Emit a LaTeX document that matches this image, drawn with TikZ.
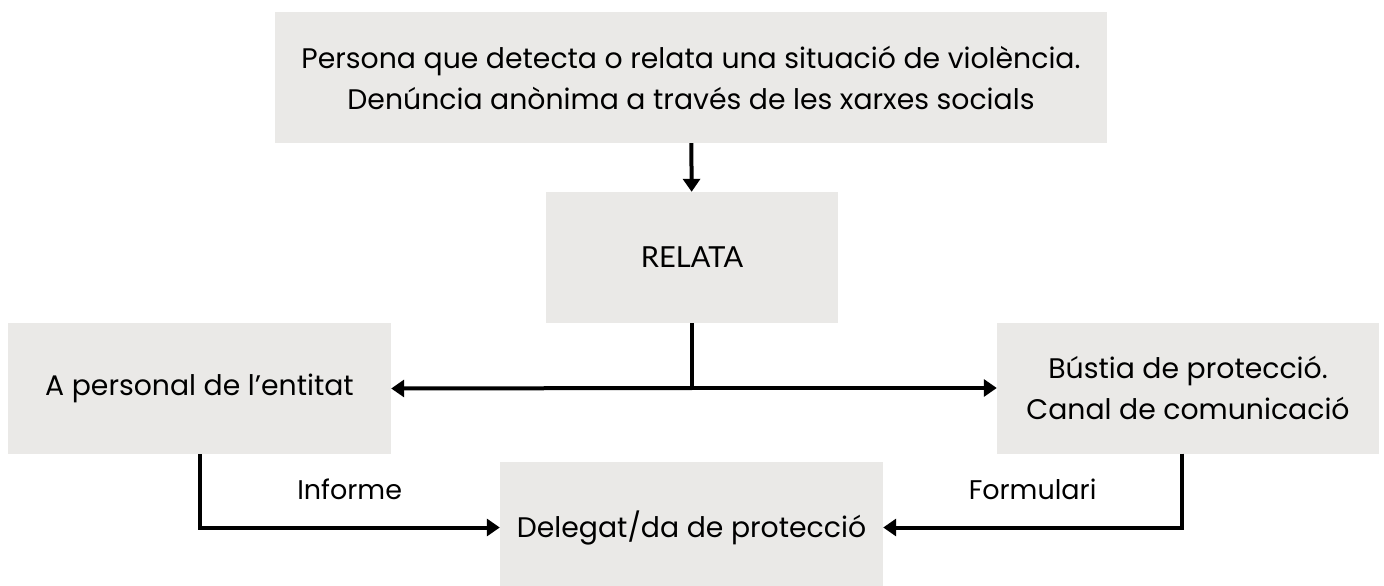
\documentclass[tikz,border=0pt]{standalone}
\usepackage{fontspec}
\setmainfont{Poppins}
\newfontfamily\relatafont{Lato}
\usepackage{xcolor}
\usetikzlibrary{arrows.meta, positioning}
\definecolor{boxgray}{RGB}{234,233,231}

\begin{document}
\begin{tikzpicture}[
    x=1pt, y=-1pt,
    box/.style={rectangle, fill=boxgray, minimum height=131pt, text centered, font=\fontsize{28.3}{41}\selectfont},
    arrow/.style={-{Triangle[length=13pt,width=17pt]}, line width=4pt},
    link/.style={line width=4pt},
    lbl/.style={font=\fontsize{27}{30}\selectfont}
]
    \useasboundingbox (0,0) rectangle (1384,586);
    % Boxes
    \node[box, minimum width=832pt, align=center] (detect) at (691,77.5) {
        Persona que detecta o relata una situació de violència.\\
        Denúncia anònima a través de les xarxes socials
    };
    \node[box, minimum width=292pt, font=\relatafont\fontsize{29}{34}\selectfont] (relata) at (692,257.5) {RELATA};
    \node[box, minimum width=383pt] (personal) at (199.5,388.5) {A personal de l'entitat};
    \node[box, minimum width=382pt, align=center] (bustia) at (1188,388) {
        Bústia de protecció.\\
        Canal de comunicació
    };
    \node[box, minimum width=383pt] (delegat) at (691.5,527.5) {Delegat/da de protecció};
    \coordinate (split) at (692,388);

    % Arrows
    \draw[arrow] (detect) -- (relata);
    \draw[link] (relata) -- (split);
    \draw[arrow] (split) -- (personal.east);
    \draw[arrow] (split) -- (bustia.west);
    \draw[arrow] (personal.south) |- node[lbl, pos=0.75, yshift=38pt] (informe) {Informe} (delegat.west);
    \draw[arrow] ([xshift=-6pt]bustia.south) |- node[lbl, pos=0.75, yshift=38pt] (formulari) {Formulari} (delegat.east);
\end{tikzpicture}
\end{document}
